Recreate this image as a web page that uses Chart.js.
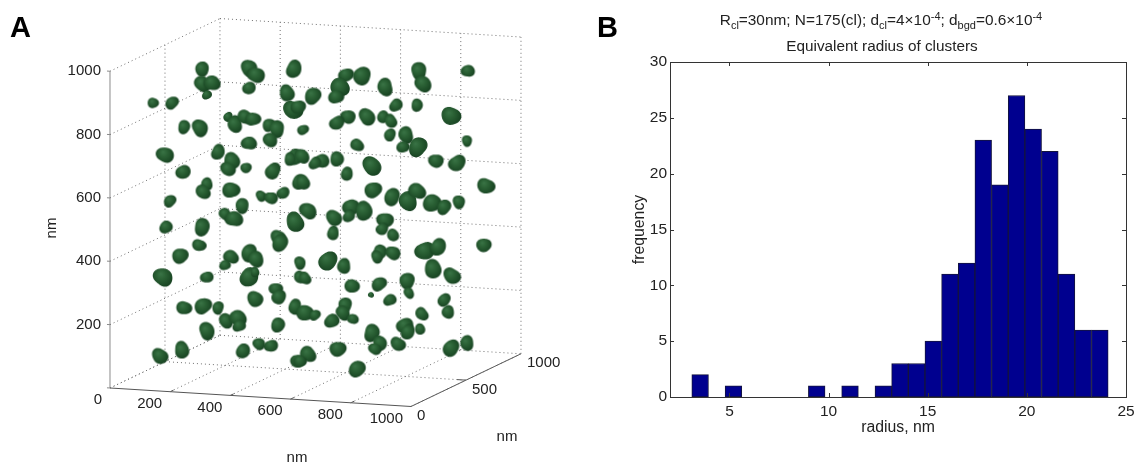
<!DOCTYPE html>
<html><head><meta charset="utf-8">
<style>html,body{margin:0;padding:0;background:#fff;overflow:hidden}
canvas{position:absolute;top:0}#a{left:0}#b{left:570px}</style>
<script src="https://cdn.jsdelivr.net/npm/chart.js@4"></script>
</head><body>
<canvas id="a" width="570" height="467"></canvas>
<canvas id="b" width="572" height="467"></canvas>
<script>
// Panel A: cluster positions in projected nm (u across the view, v up the view) and radii in nm
const clusterU=[143,206,306,306,339,322,246,299,183,243,359,405,392,452,541,322,309,402,199,439,382,412,186,306,462,485,462,611,588,608,625,392,415,448,475,528,555,532,462,615,598,502,535,575,628,615,558,784,837,914,764,751,674,1026,1040,1189,950,1020,854,791,754,907,933,1133,641,930,983,821,973,1023,1186,638,704,681,754,870,1083,1153,787,641,1249,874,937,990,1020,1070,1110,1159,658,801,794,844,744,914,904,741,940,296,233,462,485,402,382,565,631,176,322,462,482,482,551,561,615,631,246,309,359,385,425,429,558,322,495,535,442,239,166,625,724,777,648,804,894,987,993,867,930,897,887,940,1046,1090,1073,1136,1242,1110,1123,1036,648,681,781,774,807,737,870,897,880,980,990,1030,957,757,1133,1186,658,631,821];
const clusterV=[900,900,1007,960,963,925,824,821,736,682,745,717,691,695,685,644,619,625,590,575,549,534,508,508,1010,988,947,1007,931,878,887,856,833,856,849,830,818,783,773,729,723,606,600,616,650,524,477,988,985,950,950,919,922,1001,960,1001,893,893,856,856,837,856,843,859,815,799,799,767,761,761,780,732,717,710,723,701,717,710,676,650,638,625,603,590,622,584,571,587,559,571,543,559,537,530,502,489,483,451,417,426,407,414,388,458,395,350,350,350,366,281,313,287,256,350,253,259,253,212,221,196,199,180,139,133,117,120,101,85,401,385,347,322,328,338,300,294,278,429,414,426,433,445,376,354,451,278,240,234,237,230,262,237,218,212,174,142,123,196,177,186,139,123,126,142,107,85,60];
const clusterR=[15,18,20,22,22,13,18,23,23,20,20,23,20,15,22,17,20,23,17,20,17,23,18,23,23,23,18,23,22,26,20,13,22,20,20,18,22,20,20,23,17,15,18,17,20,26,20,20,25,23,26,20,23,23,23,18,18,17,23,20,20,17,18,26,15,17,22,18,17,26,15,20,20,17,20,26,20,23,18,20,23,23,23,26,23,25,20,18,23,23,17,25,22,22,17,18,17,18,22,23,22,20,15,23,17,26,17,26,13,22,18,20,20,17,20,23,17,20,23,17,20,23,17,18,20,22,22,20,26,20,17,20,20,22,15,8,17,20,17,20,26,23,25,23,20,18,18,18,23,15,20,20,15,20,23,20,17,23,20,15,20,22,23,20,22,17,23];
const zTicks=[0,200,400,600,800,1000];
const xTicks=[0,200,400,600,800,1000];
const yTicks=[0,500,1000];
const gridXLines=[200,400,600,800];
// Panel B: histogram
const binCenters=[3.52,4.36,5.2,6.04,6.88,7.72,8.56,9.4,10.24,11.08,11.92,12.76,13.6,14.44,15.28,16.12,16.96,17.8,18.64,19.48,20.32,21.16,22,22.84,23.68];
const binCounts=[2,0,1,0,0,0,0,1,0,1,0,1,3,3,5,11,12,23,19,27,24,22,11,6,6];
const titleLine1=[["R",0],["cl",1],["=30nm; N=175(cl); d",0],["cl",1],["=4×10",0],["-4",2],["; d",0],["bgd",1],["=0.6×10",0],["-4",2]];
const titleLine2="Equivalent radius of clusters";

const FONT='"Liberation Sans",Arial,sans-serif';
const TXT='#222';

// box projection of the 3D view onto the flat (u,v) plane
const proj=(x,y,z)=>({x:x+0.3654*y, y:z-0.0584*x+0.1664*y});
const NIL={x:null,y:null};
function segs(list){const o=[];list.forEach(([a,b])=>{o.push(proj(...a),proj(...b),NIL)});return o;}

const dotted=[];
zTicks.forEach(z=>{dotted.push([[0,0,z],[0,1000,z]],[[0,1000,z],[1000,1000,z]])});
gridXLines.concat([1000]).forEach(x=>{dotted.push([[x,1000,0],[x,1000,1000]])});
dotted.push([[0,1000,0],[0,1000,1000]],[[0,500,0],[0,500,1000]]);
gridXLines.forEach(x=>dotted.push([[x,0,0],[x,1000,0]]));
dotted.push([[0,500,0],[1000,500,0]],[[0,0,0],[0,1000,0]],[[1000,0,0],[1000,1000,0]]);
const zAxis=[[[0,0,0],[0,0,1000]]];
zTicks.forEach(z=>zAxis.push([[0,0,z],[-10,0,z]]));
const floorAxes=[[[0,0,0],[1000,0,0]],[[1000,0,0],[1000,1000,0]]];
gridXLines.forEach(x=>floorAxes.push([[x,0,0],[x,30,0]]));
floorAxes.push([[1000,500,0],[970,500,0]]);

// scale factor: nm of radius -> sprite pixels
const NM_PX=0.36;
function makeBlob(rNm,i){
  const r=rNm*NM_PX, s=Math.ceil(r*3.4)+4, c=document.createElement('canvas');
  c.width=c.height=s;
  const g=c.getContext('2d');
  g.translate(s/2,s/2);
  const phi=(i*2.399)%6.283, a=0.05+0.08*Math.abs(Math.sin(i*1.7)), b=0.02+0.03*Math.abs(Math.cos(i*0.9)), psi=i*1.1;
  g.beginPath();
  for(let t=0;t<=72;t++){const th=t/72*6.28319;
    const R=r*(1+a*Math.cos(2*(th-phi))+b*Math.cos(3*th+psi));
    g[t?'lineTo':'moveTo'](R*Math.cos(th),R*Math.sin(th));}
  g.closePath();
  g.filter='blur(0.3px)';
  const gr=g.createRadialGradient(-0.25*r,-0.35*r,0,-0.1*r,-0.1*r,1.3*r);
  gr.addColorStop(0,'#3a7446');gr.addColorStop(0.4,'#2a6034');gr.addColorStop(0.8,'#1c4a26');gr.addColorStop(1,'#163f20');
  g.fillStyle=gr;g.fill();
  return c;
}
const sprites=clusterR.map(makeBlob);

const labelsA={
 id:'labelsA',
 afterDraw(ch){
  const c=ch.ctx,X=ch.scales.x,Y=ch.scales.y;
  const at=(p)=>[X.getPixelForValue(p.x),Y.getPixelForValue(p.y)];
  c.save();c.fillStyle=TXT;c.font='15px '+FONT;c.textBaseline='middle';
  zTicks.filter(z=>z>0).forEach(z=>{const [px,py]=at(proj(0,0,z));c.textAlign='right';c.fillText(String(z),px-9,py);});
  xTicks.forEach(x=>{const [px,py]=at(proj(x,0,0));c.textAlign='right';c.fillText(String(x),px-8,py+12);});
  yTicks.forEach(y=>{const [px,py]=at(proj(1000,y,0));c.textAlign='left';c.fillText(String(y),px+6,py+9.5);});
  c.font='15px '+FONT;c.textAlign='center';
  c.fillText('nm',297,458);c.fillText('nm',507,437);
  c.save();c.translate(52,228);c.rotate(-Math.PI/2);c.fillText('nm',0,0);c.restore();
  c.font='bold 29px '+FONT;c.fillStyle='#000';c.textAlign='left';c.fillText('A',10,29);
  c.restore();
 }
};
const lineDs=(data,color,w,dash)=>({type:'scatter',data,showLine:true,spanGaps:false,borderColor:color,borderWidth:w,borderDash:dash,pointRadius:0,order:2});

new Chart(document.getElementById('a'),{
 type:'scatter',
 data:{datasets:[
  {data:clusterU.map((u,i)=>({x:u,y:clusterV[i]})),pointStyle:sprites,pointRadius:6,order:1,borderWidth:0},
  lineDs(segs(dotted),'#6f6f6f',1,[1,3]),
  lineDs(segs(zAxis),'#8a8a8a',1,[]),
  lineDs(segs(floorAxes),'#555',1,[])
 ]},
 options:{responsive:false,animation:false,devicePixelRatio:1,
  layout:{padding:0,autoPadding:false},
  plugins:{legend:{display:false},tooltip:{enabled:false}},
  scales:{
   x:{type:'linear',display:false,min:-365.4,max:1528.2},
   y:{type:'linear',display:false,min:-249.4,max:1224.9}
  }},
 plugins:[labelsA]
});

const boxB={
 id:'boxB',
 afterDraw(ch){
  const c=ch.ctx,a=ch.chartArea,X=ch.scales.x,Y=ch.scales.y;
  c.save();c.strokeStyle='#333';c.lineWidth=1;
  c.strokeRect(a.left+.5,a.top+.5,a.width,a.height);
  c.beginPath();
  X.ticks.forEach(t=>{const p=Math.round(X.getPixelForValue(t.value))+.5;
    c.moveTo(p,a.bottom);c.lineTo(p,a.bottom-4);c.moveTo(p,a.top);c.lineTo(p,a.top+4);});
  Y.ticks.forEach(t=>{const p=Math.round(Y.getPixelForValue(t.value))+.5;
    c.moveTo(a.left,p);c.lineTo(a.left+4,p);c.moveTo(a.right,p);c.lineTo(a.right-4,p);});
  c.stroke();
  // titles
  c.fillStyle=TXT;c.textBaseline='alphabetic';c.textAlign='left';
  const fnt=k=>k?'11px '+FONT:'15.4px '+FONT;
  let w=0;titleLine1.forEach(([t,k])=>{c.font=fnt(k);w+=c.measureText(t).width});
  let x=311-w/2;
  titleLine1.forEach(([t,k])=>{c.font=fnt(k);c.fillText(t,x,k===1?29:k===2?20:25);x+=c.measureText(t).width});
  c.font='15.3px '+FONT;c.textAlign='center';c.fillText(titleLine2,312,51);
  c.font='bold 29px '+FONT;c.fillStyle='#000';c.textAlign='left';c.textBaseline='middle';c.fillText('B',27,29);
  c.restore();
 }
};
new Chart(document.getElementById('b'),{
 type:'bar',
 data:{datasets:[{data:binCenters.map((x,i)=>({x,y:binCounts[i]})),backgroundColor:'#00008f',borderColor:'#14143c',borderWidth:1,borderSkipped:false,barPercentage:1,categoryPercentage:1}]},
 options:{responsive:false,animation:false,devicePixelRatio:1,
  layout:{padding:{left:60,top:62,right:16,bottom:30},autoPadding:false},
  plugins:{legend:{display:false},tooltip:{enabled:false}},
  scales:{
   x:{type:'linear',min:2,max:25,offset:false,
      grid:{display:false,drawTicks:false},border:{display:false},
      ticks:{stepSize:5,includeBounds:false,padding:5,maxRotation:0,color:TXT,font:{family:FONT,size:15.5}},
      title:{display:true,text:'radius, nm',color:TXT,padding:{top:0,bottom:0},font:{family:FONT,size:15.8}},
      afterFit(s){s.height=40}},
   y:{type:'linear',min:0,max:30,
      grid:{display:false,drawTicks:false},border:{display:false},
      ticks:{stepSize:5,padding:3,color:TXT,font:{family:FONT,size:15.5}},
      title:{display:true,text:'frequency',color:TXT,padding:{top:0,bottom:0},font:{family:FONT,size:15.8}},
      afterFit(s){s.width=40}}
  }},
 plugins:[boxB]
});
</script>
</body></html>
